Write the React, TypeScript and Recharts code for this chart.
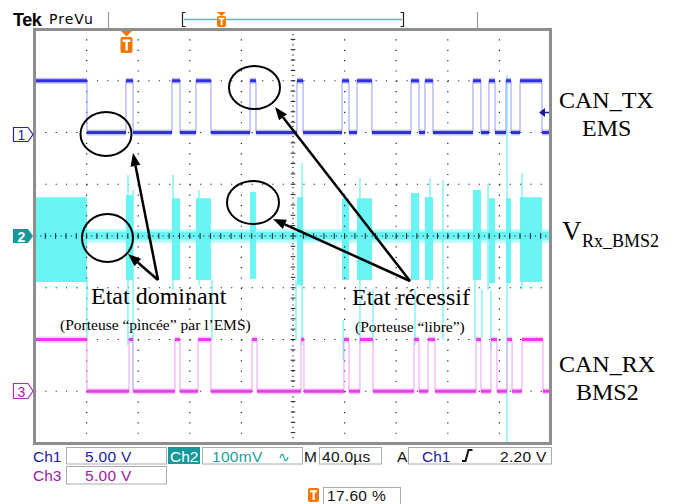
import React from 'react';
import { ComposedChart, Line, Area, XAxis, YAxis, ReferenceLine } from 'recharts';

// time axis in µs (40 µs/div, 10 div). ch1/ch3 in V, ch2 in mV
const CH1_EDGES = [0, 40.3, 70.5, 76.0, 106.2, 112.4, 124.8, 136.4, 166.7, 171.3, 203.1, 207.8, 238.0, 243.4, 249.6, 261.2, 291.5, 297.7, 302.3, 308.5, 339.5, 345.7, 351.9, 356.6, 365.1, 369.0, 376.0, 393.0, 400];
const CH1_VOLTS = [5, 0, 5, 0, 5, 0, 5, 0, 5, 0, 5, 0, 5, 0, 5, 0, 5, 0, 5, 0, 5, 0, 5, 0, 5, 0, 5, 0];

const CH3_EDGES = [0, 40.3, 72.9, 76.0, 108.5, 112.4, 126.4, 136.4, 168.2, 172.1, 206.2, 208.5, 239.5, 243.4, 251.9, 262.0, 293.8, 297.7, 304.7, 310.1, 341.9, 345.7, 353.5, 358.1, 365.9, 369.8, 377.5, 393.8, 400];
const CH3_VOLTS = [5, 0, 5, 0, 5, 0, 5, 0, 5, 0, 5, 0, 5, 0, 5, 0, 5, 0, 5, 0, 5, 0, 5, 0, 5, 0, 5, 0];

// [start µs, end µs, top mV, bottom mV]
const CH2_BURSTS = [
  [0, 40.3, 75, -89],
  [70.5, 76.0, 79, -85],
  [106.2, 112.4, 73, -85],
  [124.8, 136.4, 73, -85],
  [166.7, 171.3, 85, -83],
  [203.1, 207.8, 75, -95],
  [238.0, 243.4, 73, -85],
  [249.6, 261.2, 73, -85],
  [291.5, 297.7, 83, -85],
  [302.3, 308.5, 75, -85],
  [339.5, 345.7, 89, -85],
  [351.9, 356.6, 73, -91],
  [365.1, 369.0, 73, -91],
  [376.0, 393.0, 75, -89],
];
// [time µs, top mV, bottom mV]
const CH2_SPIKES = [
  [40.3, -85, -201],
  [72.1, 118, -211],
  [76.0, 89, -298],
  [107.0, 118, -104],
  [127.1, 89, -95],
  [137.2, -85, -201],
  [202.3, -85, -201],
  [207.0, 141, -211],
  [238.8, -162, -240],
  [251.9, 112, -211],
  [262.0, -104, -211],
  [294.6, -104, -211],
  [306.2, 112, -104],
  [316.3, 108, -201],
  [341.1, 89, -201],
  [346.5, -104, -197],
  [351.2, 102, -104],
  [353.5, -104, -220],
  [365.9, 311, -400],
  [377.5, 122, -104],
];
const CH2_NOISE = [-7, 8];
const CH2_FUZZ = [-13, 13];

// vertical settings: per-div scale and ground position (div from centre)
const CH1_SCALE = 5;
const CH1_POS = 2;
const CH2_SCALE = 100;
const CH2_POS = 0;
const CH3_SCALE = 5;
const CH3_POS = -3;

const GRID_X = [40, 80, 120, 160, 240, 280, 320, 360];
const GRID_Y = [-3, -2, -1, 1, 2, 3];
const MINOR_T = Array.from({ length: 51 }, (_, i) => i * 8);
const MINOR_V = Array.from({ length: 41 }, (_, i) => +(-4 + i * 0.2).toFixed(1));

const W = 677;
const H = 504;

const BLUE = '#2f2fe2';
const MAGENTA = '#ee3aee';
const CYAN = '#62f3f3';

const dom = (pos: number, scale: number): [number, number] => [(-4 - pos) * scale, (4 - pos) * scale];

// every series gets its own key so recharts keeps them apart
function segs(edges: number[], volts: number[], level: number, key: string) {
  const pts: any[] = [];
  volts.forEach((v, i) => {
    if (v !== level) return;
    pts.push({ t: edges[i], [key]: v }, { t: edges[i + 1], [key]: v }, { t: edges[i + 1], [key]: null });
  });
  return pts;
}

function steps(edges: number[], volts: number[], key: string) {
  return edges.map((t, i) => ({ t, [key]: volts[Math.min(i, volts.length - 1)] }));
}

function traceData(id: string, edges: number[], volts: number[]) {
  return {
    st: steps(edges, volts, id + 'st'),
    hh: segs(edges, volts, 5, id + 'hh'),
    hl: segs(edges, volts, 0, id + 'hl'),
    ch: segs(edges, volts, 5, id + 'ch'),
    cl: segs(edges, volts, 0, id + 'cl'),
  };
}

const ch1 = traceData('c1', CH1_EDGES, CH1_VOLTS);
const ch3 = traceData('c3', CH3_EDGES, CH3_VOLTS);
const fuzzData = [{ t: 0, fz: CH2_FUZZ }, { t: 400, fz: CH2_FUZZ }];
const noiseData = [{ t: 0, nz: CH2_NOISE }, { t: 400, nz: CH2_NOISE }];
const burstData = CH2_BURSTS.map((b, i) => [
  { t: b[0], ['b' + i]: [b[3], b[2]] },
  { t: b[1], ['b' + i]: [b[3], b[2]] },
]);

const Arrow = ({ x1, y1, x2, y2 }: { x1: number; y1: number; x2: number; y2: number }) => {
  const a = Math.atan2(y2 - y1, x2 - x1);
  const len = 13;
  const wd = 5;
  const bx = x2 - len * Math.cos(a);
  const by = y2 - len * Math.sin(a);
  const px = -Math.sin(a) * wd;
  const py = Math.cos(a) * wd;
  return (
    <g>
      <line x1={x1} y1={y1} x2={bx} y2={by} stroke="#000" strokeWidth={2.5} />
      <polygon points={`${x2},${y2} ${bx + px},${by + py} ${bx - px},${by - py}`} fill="#000" />
    </g>
  );
};

const TIcon = ({ x, y, w, h }: { x: number; y: number; w: number; h: number }) => (
  <g>
    <rect x={x} y={y} width={w} height={h} rx={2} fill="#f07800" />
    <rect x={x + w * 0.18} y={y + h * 0.16} width={w * 0.64} height={h * 0.15} fill="#fff" />
    <rect x={x + w * 0.41} y={y + h * 0.16} width={w * 0.2} height={h * 0.68} fill="#fff" />
  </g>
);

const serif = 'Liberation Serif, DejaVu Serif, serif';
const sans = 'Liberation Sans, Arial, sans-serif';

const traceLines = (id: string, d: any, core: string, halo: string, edge: string) => (
  <>
    <Line yAxisId={id} data={d.st} dataKey={id + 'st'} type="stepAfter" stroke={edge} strokeWidth={1} dot={false} activeDot={false} isAnimationActive={false} />
    <Line yAxisId={id} data={d.hh} dataKey={id + 'hh'} type="linear" stroke={halo} strokeWidth={6} strokeOpacity={0.45} dot={false} activeDot={false} isAnimationActive={false} />
    <Line yAxisId={id} data={d.hl} dataKey={id + 'hl'} type="linear" stroke={halo} strokeWidth={6} strokeOpacity={0.45} dot={false} activeDot={false} isAnimationActive={false} />
    <Line yAxisId={id} data={d.ch} dataKey={id + 'ch'} type="linear" stroke={core} strokeWidth={3} dot={false} activeDot={false} isAnimationActive={false} />
    <Line yAxisId={id} data={d.cl} dataKey={id + 'cl'} type="linear" stroke={core} strokeWidth={3} dot={false} activeDot={false} isAnimationActive={false} />
  </>
);

export default function App() {
  return (
    <div style={{ position: 'absolute', left: 0, top: 0, width: W, height: H, background: '#fff' }}>
      <ComposedChart width={W} height={H} margin={{ top: 29, right: 126, bottom: 61, left: 35 }}>
        <XAxis type="number" dataKey="t" domain={[0, 400]} orientation="top" mirror ticks={MINOR_T}
          tickSize={4} axisLine={false} tick={false} tickLine={{ stroke: '#333' }} allowDataOverflow />
        <XAxis xAxisId="b" type="number" dataKey="t" domain={[0, 400]} orientation="bottom" mirror ticks={MINOR_T}
          tickSize={4} axisLine={false} tick={false} tickLine={{ stroke: '#333' }} />
        <YAxis type="number" domain={[-4, 4]} mirror ticks={MINOR_V} tickSize={3} axisLine={false} tick={false}
          tickLine={{ stroke: '#333' }} allowDataOverflow />
        <YAxis yAxisId="r" orientation="right" type="number" domain={[-4, 4]} mirror ticks={MINOR_V} tickSize={3}
          axisLine={false} tick={false} tickLine={{ stroke: '#333' }} />
        <YAxis yAxisId="c1" type="number" domain={dom(CH1_POS, CH1_SCALE)} hide allowDataOverflow />
        <YAxis yAxisId="c2" type="number" domain={dom(CH2_POS, CH2_SCALE)} hide allowDataOverflow />
        <YAxis yAxisId="c3" type="number" domain={dom(CH3_POS, CH3_SCALE)} hide allowDataOverflow />

        {GRID_X.map((t) => (
          <ReferenceLine key={'gx' + t} x={t} stroke="#222" strokeWidth={1.2} strokeDasharray="1.2 9.15" />
        ))}
        {GRID_Y.map((v) => (
          <ReferenceLine key={'gy' + v} y={v} stroke="#222" strokeWidth={1.2} strokeDasharray="1.2 9.12" />
        ))}

        <Area yAxisId="c2" data={fuzzData} dataKey="fz" type="linear" stroke="none" fill={CYAN} fillOpacity={0.45}
          dot={false} activeDot={false} isAnimationActive={false} />
        <Area yAxisId="c2" data={noiseData} dataKey="nz" type="linear" stroke="none" fill={CYAN} fillOpacity={0.9}
          dot={false} activeDot={false} isAnimationActive={false} />
        {burstData.map((d, i) => (
          <Area key={'b' + i} yAxisId="c2" data={d} dataKey={'b' + i} type="linear" stroke="none" fill={CYAN}
            fillOpacity={0.95} dot={false} activeDot={false} isAnimationActive={false} />
        ))}

        {CH2_SPIKES.map((s, i) => (
          <ReferenceLine key={'s' + i} yAxisId="c2" segment={[{ x: s[0], y: s[2] }, { x: s[0], y: s[1] }]}
            stroke={CYAN} strokeWidth={1.2} />
        ))}

        <ReferenceLine x={200} stroke="#222" strokeWidth={1.2} strokeDasharray="1.2 3.9" />
        <ReferenceLine y={0} stroke="#222" strokeWidth={1.2} strokeDasharray="1.2 3.9" />
        {MINOR_T.map((t) => (
          <ReferenceLine key={'ct' + t} segment={[{ x: t, y: -0.055 }, { x: t, y: 0.055 }]} stroke="#222" strokeWidth={1} />
        ))}
        {MINOR_V.map((v) => (
          <ReferenceLine key={'cv' + v} segment={[{ x: 198.2, y: v }, { x: 201.8, y: v }]} stroke="#222" strokeWidth={1} />
        ))}

        {/* digital traces last, so nothing is drawn over them */}
        {traceLines('c3', ch3, MAGENTA, '#f58ff5', '#f49cf4')}
        {traceLines('c1', ch1, BLUE, '#7a7af2', '#9a9af8')}
      </ComposedChart>

      <svg width={W} height={H} style={{ position: 'absolute', left: 0, top: 0, pointerEvents: 'none' }}>
        {/* header */}
        <text x={13} y={26} fontFamily={sans} fontWeight="bold" fontSize={18} letterSpacing={-0.5}>Tek</text>
        <text x={49} y={24} fontFamily="DejaVu Sans, sans-serif" fontSize={14} letterSpacing={1}>PreVu</text>
        <line x1={108.5} y1={12} x2={108.5} y2={28} stroke="#9a9a9a" strokeWidth={1.2} />
        <line x1={477.5} y1={12} x2={477.5} y2={28} stroke="#9a9a9a" strokeWidth={1.2} />
        <line x1={184} y1={19.5} x2={402} y2={19.5} stroke="#5bb3b3" strokeWidth={1.5} />
        <path d="M185.5,12.5 H182.5 V26.5 H185.5" stroke="#222" strokeWidth={1.2} fill="none" />
        <path d="M400.5,12.5 H403.5 V26.5 H400.5" stroke="#222" strokeWidth={1.2} fill="none" />
        <polygon points="217,12 226,12 221.5,16" fill="#f07800" />
        <TIcon x={217} y={16} w={9} h={11} />

        {/* graticule frame */}
        <rect x={34.5} y={29.5} width={516} height={414} fill="none" stroke="#8e8e8e" strokeWidth={3} />
        <polygon points="121,31 132,31 126.5,36.5" fill="#f07800" />
        <TIcon x={120.5} y={37} w={12} h={16} />
        <polygon points="539,112.5 545,108 545,117" fill="#1a1a8c" />
        <line x1={545} y1={112.5} x2={549} y2={112.5} stroke="#1a1a8c" strokeWidth={1.5} />

        {/* channel markers */}
        <path d="M13.5,127.5 H28 L33,134.5 L28,141.5 H13.5 Z" fill="#fff" stroke="#2424b0" strokeWidth={1.2} />
        <text x={17.5} y={140} fontFamily={sans} fontSize={14} fill="#2424b0">1</text>
        <path d="M13,229 H28 L33,236 L28,243 H13 Z" fill="#14999a" />
        <text x={17.5} y={242} fontFamily={sans} fontWeight="bold" fontSize={14} fill="#fff">2</text>
        <path d="M13.5,383.5 H28 L33,391 L28,398.5 H13.5 Z" fill="#fff" stroke="#b030b0" strokeWidth={1.2} />
        <text x={17.5} y={397} fontFamily={sans} fontSize={14} fill="#a020a0">3</text>

        {/* annotations */}
        <ellipse cx={106} cy={134} rx={25.5} ry={22} fill="none" stroke="#000" strokeWidth={2} />
        <ellipse cx={254.5} cy={87.5} rx={25.5} ry={21.5} fill="none" stroke="#000" strokeWidth={2} />
        <ellipse cx={107.5} cy={238} rx={25.5} ry={24} fill="none" stroke="#000" strokeWidth={2} />
        <ellipse cx={253} cy={202.5} rx={26} ry={21.5} fill="none" stroke="#000" strokeWidth={2} />
        <Arrow x1={158} y1={280} x2={133} y2={153} />
        <Arrow x1={158} y1={280} x2={128} y2={254} />
        <Arrow x1={410} y1={281} x2={275} y2={107} />
        <Arrow x1={410} y1={281} x2={273} y2={219} />

        <text x={91} y={304} fontFamily={serif} fontSize={24}>Etat dominant</text>
        <text x={60} y={330} fontFamily={serif} fontSize={15.5}>(Porteuse “pincée” par l’EMS)</text>
        <text x={352} y={305} fontFamily={serif} fontSize={24}>Etat récessif</text>
        <text x={355} y={332} fontFamily={serif} fontSize={15.5}>(Porteuse “libre”)</text>

        <text x={559} y={108} fontFamily={serif} fontSize={24}>CAN_TX</text>
        <text x={582} y={136} fontFamily={serif} fontSize={24}>EMS</text>
        <text x={562} y={240} fontFamily={serif} fontSize={27}>V</text>
        <text x={582} y={247} fontFamily={serif} fontSize={18}>Rx_BMS2</text>
        <text x={559} y={372} fontFamily={serif} fontSize={24}>CAN_RX</text>
        <text x={576} y={400} fontFamily={serif} fontSize={24}>BMS2</text>

        {/* status bar */}
        <g fontFamily={sans} fontSize={15.5}>
          <text x={33} y={462} fill="#1c1c9c">Ch1</text>
          <rect x={66.5} y={447.5} width={100} height={16.5} fill="none" stroke="#aaa" />
          <text x={85} y={462} fill="#1c1c9c" letterSpacing={0.3}>5.00 V</text>
          <rect x={168} y={447} width={32} height={17} fill="#17989a" />
          <text x={170} y={462} fill="#fff">Ch2</text>
          <rect x={202.5} y={447.5} width={100} height={16.5} fill="none" stroke="#aaa" />
          <text x={212} y={462} fill="#1aa0a0" letterSpacing={0.3}>100mV</text>
          <text x={278} y={462} fill="#1aa0a0" fontFamily="DejaVu Sans, sans-serif" fontSize={14}>∿</text>
          <text x={304} y={462} fill="#111">M</text>
          <rect x={319.5} y={447.5} width={62} height={16.5} fill="none" stroke="#aaa" />
          <text x={322} y={462} fill="#111" letterSpacing={0.3}>40.0µs</text>
          <text x={397} y={462} fill="#111">A</text>
          <rect x={408.5} y={447.5} width={143} height={16.5} fill="none" stroke="#aaa" />
          <text x={422} y={462} fill="#1c1c9c">Ch1</text>
          <path d="M462,461 H465.5 L468.5,450 H472.5" stroke="#111" strokeWidth={2} fill="none" />
          <text x={500} y={462} fill="#111" letterSpacing={0.3}>2.20 V</text>

          <text x={33} y={481} fill="#a020a0">Ch3</text>
          <rect x={66.5} y={466.5} width={100} height={17.5} fill="none" stroke="#aaa" />
          <text x={85} y={481} fill="#a020a0" letterSpacing={0.3}>5.00 V</text>

          <TIcon x={308} y={488} w={11} h={14} />
          <rect x={323.5} y={487.5} width={77} height={17} fill="none" stroke="#aaa" />
          <text x={327} y={501} fill="#111" letterSpacing={0.3}>17.60 %</text>
        </g>
      </svg>
    </div>
  );
}
